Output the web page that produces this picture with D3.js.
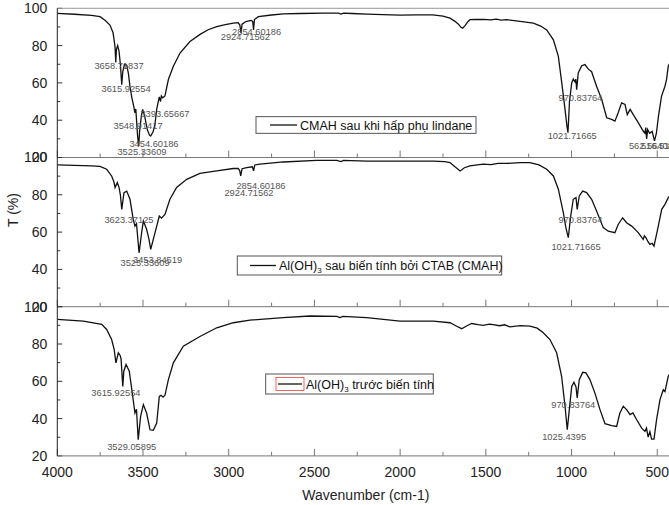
<!DOCTYPE html>
<html><head><meta charset="utf-8">
<script src="https://cdn.jsdelivr.net/npm/d3@7"></script>
<style>
html,body{margin:0;padding:0;background:#fff;overflow:hidden}
text{font-family:"Liberation Sans",Arial,sans-serif}
</style></head>
<body><svg id="c" width="669" height="505"></svg>
<script>
// ---- data ----
const xTicks = [4000, 3500, 3000, 2500, 2000, 1500, 1000, 500];
const yTicks = [20, 40, 60, 80, 100];
const seriesNames = ["CMAH sau khi hấp phụ lindane", "Al(OH)3 sau biến tính bởi CTAB (CMAH)", "Al(OH)3 trước biến tính"];

// panel 1: CMAH after lindane adsorption  [wavenumber, T%]
const specLindane = [
[4000,97.3],[3900,96.8],[3800,96.2],[3751,95.5],[3720,93.5],[3693,91],[3675,87],[3667,82],[3663,79],[3659,71],[3655,78],[3648,80],[3640,77],[3632,70],[3624,59],[3618,66],[3608,70],[3595,69.5],[3585,65],[3576,58],[3565,52],[3553,47],[3548,44],[3542,46],[3532,32],[3525,26],[3520,34],[3510,42],[3502,45.8],[3490,42],[3475,35],[3462,32],[3455,31.5],[3440,34],[3430,38],[3420,46],[3411,50],[3405,52.5],[3398,50],[3393,53],[3385,52],[3372,53],[3352,61.8],[3323,68.9],[3284,76],[3226,82.2],[3167,86],[3120,88.5],[3070,90.2],[3020,91.3],[2973,92],[2945,92.3],[2935,91],[2928,86.7],[2922,91.5],[2900,92.9],[2870,93.5],[2860,93],[2855,88.4],[2850,94],[2827,95.5],[2750,96.4],[2682,97],[2584,97.2],[2450,97.4],[2360,97.4],[2345,96.9],[2330,97.4],[2280,97.2],[2195,96.9],[2100,96.6],[2000,96.3],[1900,96.5],[1810,96.5],[1750,95.8],[1709,94.7],[1680,93],[1660,91.5],[1645,89.8],[1635,89.3],[1620,90.8],[1605,92.8],[1592,93.9],[1560,94],[1514,94.1],[1470,93.8],[1440,94.2],[1410,93.7],[1378,93.9],[1300,93],[1223,92],[1180,90.5],[1145,88.4],[1106,83.1],[1077,74.2],[1057,60],[1038,45.8],[1027,37],[1021,33.3],[1012,50],[999,60],[990,62.1],[980,60.5],[975,62],[970,56.4],[961,65.3],[941,69.2],[922,69.8],[903,67.5],[883,66],[854,58.2],[824,51.1],[795,41.3],[766,40.4],[747,39.5],[728,44],[708,49.3],[688,48.4],[675,43],[658,45.8],[640,43],[611,38.7],[582,34.2],[572,33],[567,36],[562,30],[556,35],[545,33],[530,34],[516,28.9],[505,33],[493,42.2],[475,52.9],[455,58.2],[446,61.8],[436,68.9],[420,72],[400,74]
];
// panel 2: Al(OH)3 modified by CTAB (CMAH)
const specCMAH = [
[4000,96],[3900,95.8],[3800,95.5],[3751,95.2],[3712,93.7],[3683,90.1],[3670,87],[3663,83.9],[3650,86.6],[3640,84],[3632,80],[3624,72.2],[3611,81.2],[3595,82],[3576,77.6],[3557,66.8],[3547,63.2],[3538,64.5],[3523,48.9],[3508,59.7],[3498,65.9],[3479,61.5],[3465,56.1],[3455,50.7],[3440,56.1],[3420,63.2],[3405,68.6],[3392,67.5],[3372,69.5],[3343,77.6],[3304,83.9],[3245,88.3],[3168,91.5],[3070,92.8],[2973,94.1],[2945,94.2],[2936,93],[2930,90.1],[2922,94],[2895,94.6],[2862,95],[2855,92.8],[2848,96],[2818,96.4],[2682,97.6],[2487,98.5],[2370,98.5],[2345,97.8],[2330,98.5],[2195,98.1],[2000,98.1],[1806,98.1],[1740,97.8],[1709,97.3],[1680,95],[1650,92.8],[1625,94.5],[1593,95.5],[1516,96.4],[1470,96.2],[1430,96.8],[1380,96.8],[1300,97.2],[1243,97.3],[1190,96],[1145,93.7],[1106,90.1],[1077,83],[1048,70.4],[1033,62.4],[1019,57],[1005,68.6],[990,77.6],[974,78.5],[967,72.2],[955,79.4],[935,82],[912,81.2],[883,77.6],[854,71.3],[815,62.4],[786,60.5],[747,59.7],[728,64.1],[702,67.7],[679,65],[649,63.2],[611,59.7],[582,56.1],[575,58],[566,57],[555,55],[543,53.4],[530,54],[519,52.5],[494,63.2],[474,72.2],[455,74.9],[436,78.5],[400,82]
];
// panel 3: Al(OH)3 before modification
const specAlOH = [
[4000,93.2],[3848,92.3],[3741,90.5],[3712,87.8],[3683,82.4],[3668,77],[3658,69.9],[3644,75.3],[3634,74],[3628,72],[3618,57.3],[3612,65.4],[3599,69],[3580,65.4],[3560,51.9],[3547,43],[3538,45],[3528,28.7],[3514,41.2],[3498,47.5],[3479,43],[3459,34],[3440,33.7],[3420,37.6],[3405,51.9],[3395,52.5],[3383,51.5],[3372,52.5],[3352,60.9],[3323,69.9],[3265,78.8],[3168,84],[3070,88.7],[2973,91.4],[2876,92.8],[2682,94.1],[2526,95],[2370,94.8],[2350,94.2],[2335,94.8],[2195,94.1],[2001,92.3],[1807,92.3],[1709,91.4],[1670,89.5],[1641,88.2],[1610,89.8],[1583,91],[1545,90.4],[1515,90],[1480,90.6],[1457,90.4],[1420,89.8],[1390,90.3],[1359,89.2],[1300,89.8],[1243,89.6],[1200,88.5],[1165,86],[1126,82.4],[1087,75.3],[1058,62.7],[1038,46.6],[1025,34],[1013,44.8],[999,57.3],[986,59.5],[974,57],[967,51.1],[955,60.9],[935,64.8],[916,64.5],[893,60.9],[864,53.8],[834,44.8],[805,37.3],[766,36.2],[737,35.8],[718,43],[698,46.6],[679,44.8],[659,42.1],[642,43],[620,39.4],[591,34.9],[572,33.1],[563,35],[553,30.1],[543,33],[533,29],[519,29],[504,39.4],[484,50.2],[465,55.5],[455,54.5],[436,62.7],[400,68]
];
const spectra = [specLindane, specCMAH, specAlOH];

// peak annotations [wavenumber, T, text]
const peaks1 = [[3640,69.4,"3658.71837"],[3599,56.8,"3615.92554"],[3529,37.2,"3548.91417"],[3372,43.5,"3393.65667"],[3436,27.6,"3454.60186"],[3506,23.2,"3525.33609"],[2903,84.9,"2924.71562"],[2837,87.5,"2854.60186"],[948,52.3,"970.83764"],[996,31.5,"1021.71665"],[537,26.2,"562.56408"],[467,26.2,"516.51408"]];
const peaks2 = [[3582,66.8,"3623.37125"],[3488,43.5,"3525.33609"],[3415,45.3,"3453.84519"],[2882,81.2,"2924.71562"],[2812,84.7,"2854.60186"],[948,66.8,"970.83764"],[974,51.9,"1021.71665"]];
const peaks3 = [[3658,53.8,"3615.92554"],[3566,25.1,"3529.05895"],[990,47.5,"970.83764"],[1043,30.4,"1025.4395"]];
const peakSets = [peaks1, peaks2, peaks3];

// ---- layout ----
const svg = d3.select("#c");
const left = 57.3, rightEdge = 674.4;
const panelTop0 = 8.3, panelH = 149.2;
const x = d3.scaleLinear().domain([4000, 400]).range([left, rightEdge]);

svg.append("defs").append("clipPath").attr("id","clipAll")
  .append("rect").attr("x",left).attr("y",panelTop0).attr("width",rightEdge-left).attr("height",panelH*3);

// legend geometry per panel (box x,w in px; y relative to panel top)
const legends = [
  {x0:256, w:220, yc:125-8.3, h:16.7, lx0:270, lx1:297, tx:300, red:false},
  {x0:237.3, w:264.4, yc:265.5-157.5, h:19, lx0:250, lx1:276, tx:279, red:false},
  {x0:265.7, w:167.6, yc:384-306.7, h:20, lx0:278, lx1:302, tx:306, red:true}
];

for (let i = 0; i < 3; i++) {
  const top = panelTop0 + i*panelH, bot = top + panelH;
  const y = d3.scaleLinear().domain([20, 100]).range([bot, top]);
  const g = svg.append("g");

  // y axis (ticks inward)
  const ya = d3.axisLeft(y).tickValues(yTicks).tickSize(0).tickPadding(10).tickFormat(d3.format("d"));
  const yg = g.append("g").attr("transform",`translate(${left},0)`).call(ya);
  yg.select(".domain").remove();
  yg.selectAll("text").attr("font-size",14).attr("fill","#222");
  const yMinor = d3.range(20, 101, 10);
  g.selectAll(null).data(yMinor).enter().append("line")
    .attr("x1",left).attr("x2",d => left + (d % 20 === 0 ? 5 : 3))
    .attr("y1",d=>y(d)).attr("y2",d=>y(d)).attr("stroke","#333").attr("stroke-width",1);

  // bottom axis line + inward ticks
  g.append("line").attr("x1",left).attr("x2",669).attr("y1",bot).attr("y2",bot).attr("stroke","#777").attr("stroke-width",1);
  const xMinor = d3.range(4000, 399, -250);
  g.selectAll(null).data(xMinor).enter().append("line")
    .attr("x1",d=>x(d)).attr("x2",d=>x(d))
    .attr("y1",bot).attr("y2",d => bot - (d % 500 === 0 ? 7 : 4))
    .attr("stroke","#777").attr("stroke-width",1);

  // spectrum
  const line = d3.line().x(d=>x(d[0])).y(d=>y(d[1]));
  g.append("path").datum(spectra[i]).attr("d",line)
    .attr("fill","none").attr("stroke","#111").attr("stroke-width",1.3)
    .attr("clip-path","url(#clipAll)");

  // peak labels
  g.selectAll(null).data(peakSets[i]).enter().append("text")
    .attr("x",d=>x(d[0])).attr("y",d=>y(d[1])).attr("dy","0.35em")
    .attr("text-anchor","middle").attr("font-size",9.3).attr("fill","#555")
    .text(d=>d[2]);

  // legend
  const L = legends[i];
  const ly = top + L.yc;
  g.append("rect").attr("x",L.x0).attr("y",ly - L.h/2).attr("width",L.w).attr("height",L.h)
    .attr("fill","#fff").attr("stroke","#555").attr("stroke-width",1);
  if (L.red) {
    g.append("rect").attr("x",L.lx0-2).attr("y",ly-6.5).attr("width",L.lx1-L.lx0+4).attr("height",13)
      .attr("fill","none").attr("stroke","#f05050").attr("stroke-width",0.9);
  }
  g.append("line").attr("x1",L.lx0).attr("x2",L.lx1).attr("y1",ly).attr("y2",ly)
    .attr("stroke","#111").attr("stroke-width",1.3);
  const t = g.append("text").attr("x",L.tx).attr("y",ly).attr("dy","0.36em")
    .attr("font-size",12.5).attr("fill","#111");
  const name = seriesNames[i];
  if (name.startsWith("Al(OH)3")) {
    t.append("tspan").text("Al(OH)");
    t.append("tspan").attr("font-size",8).attr("dy","3").text("3");
    t.append("tspan").attr("dy","-3").text(name.slice(7));
  } else {
    t.text(name);
  }
}

// top frame line
svg.append("line").attr("x1",left).attr("x2",669).attr("y1",panelTop0).attr("y2",panelTop0).attr("stroke","#999").attr("stroke-width",1);
// left axis line
svg.append("line").attr("x1",left).attr("x2",left).attr("y1",panelTop0).attr("y2",panelTop0+3*panelH).attr("stroke","#222").attr("stroke-width",1);

// x tick labels on bottom panel
const bottom = panelTop0 + 3*panelH;
svg.selectAll(null).data(xTicks).enter().append("text")
  .attr("x",d=>x(d)).attr("y",bottom+16).attr("dy","0.35em")
  .attr("text-anchor","middle").attr("font-size",14).attr("fill","#222")
  .text(d=>d);

// axis titles
svg.append("text").attr("x",(left+rightEdge)/2).attr("y",495).attr("dy","0.35em")
  .attr("text-anchor","middle").attr("font-size",14).attr("fill","#222").text("Wavenumber (cm-1)");
svg.append("text").attr("transform","translate(13,210) rotate(-90)").attr("dy","0.35em")
  .attr("text-anchor","middle").attr("font-size",14).attr("fill","#222").text("T (%)");
</script>
</body></html>
